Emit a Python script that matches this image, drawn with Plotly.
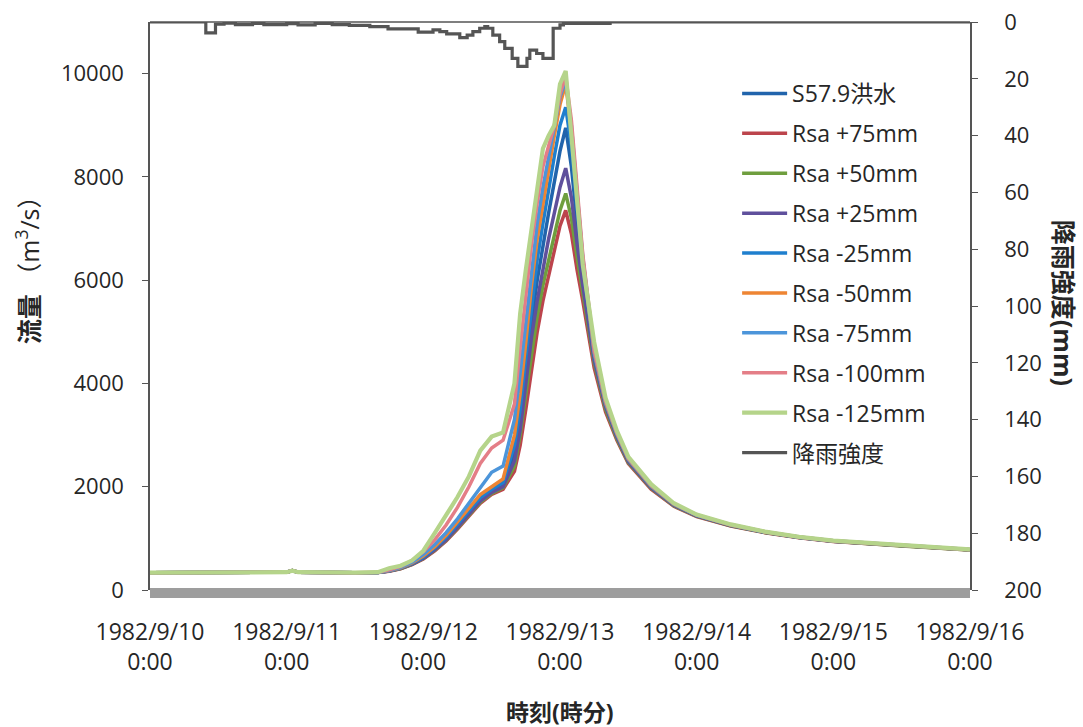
import pandas as pd
import plotly.graph_objects as go

# ---------------- data ----------------
BASE = pd.Timestamp("1982-09-10 00:00")

# flow time points (hours from 1982/9/10 0:00)
flow_hours = [0, 12, 24, 25, 26, 36, 40, 42, 44, 46, 48, 50, 52, 54, 56, 58, 60, 62,
              64, 65, 66, 67, 68, 69, 70, 71, 72, 73, 74, 75, 76, 78, 80, 82, 84,
              88, 92, 96, 102, 108, 114, 120, 132, 144]

q_s579 = [335, 340, 345, 375, 345, 335, 338, 370, 420, 505, 620, 790, 985, 1230, 1490, 1740,
          1910, 2030, 2650, 3300, 4200, 5200, 6000, 6700, 7300, 7900, 8500, 8950,
          8200, 7100, 6100, 4500, 3580, 2980, 2500, 1990, 1650, 1440, 1255, 1120, 1020, 946, 856, 779]
q_p75 = [335, 340, 345, 375, 345, 335, 338, 365, 410, 490, 600, 760, 950, 1180, 1430, 1680,
         1850, 1950, 2300, 2800, 3500, 4300, 5000, 5600, 6100, 6600, 7050, 7350,
         6900, 6200, 5600, 4300, 3450, 2900, 2450, 1950, 1620, 1420, 1240, 1110, 1010, 940, 850, 775]
q_p50 = [335, 340, 345, 375, 345, 335, 338, 367, 415, 495, 610, 770, 965, 1200, 1450, 1700,
         1870, 1980, 2400, 3000, 3800, 4600, 5300, 5900, 6400, 6900, 7350, 7680,
         7200, 6450, 5750, 4400, 3500, 2930, 2470, 1970, 1630, 1430, 1245, 1115, 1015, 942, 852, 777]
q_p25 = [335, 340, 345, 375, 345, 335, 338, 368, 418, 500, 615, 780, 975, 1215, 1470, 1720,
         1890, 2000, 2500, 3100, 4000, 4900, 5600, 6200, 6800, 7300, 7800, 8170,
         7600, 6700, 5900, 4450, 3550, 2960, 2490, 1980, 1640, 1435, 1250, 1118, 1018, 944, 854, 778]
q_m25 = [335, 340, 345, 375, 345, 335, 338, 372, 425, 515, 640, 815, 1020, 1270, 1540, 1790,
         1950, 2080, 2800, 3500, 4500, 5500, 6400, 7100, 7800, 8400, 9000, 9350,
         8600, 7400, 6300, 4550, 3600, 3000, 2520, 2000, 1655, 1445, 1258, 1122, 1022, 948, 858, 780]
q_m50 = [335, 340, 345, 375, 345, 335, 338, 375, 430, 525, 660, 840, 1060, 1320, 1590, 1850,
         2000, 2150, 3000, 3800, 4800, 5900, 6800, 7500, 8200, 8800, 9400, 9800,
         8900, 7600, 6400, 4600, 3620, 3020, 2530, 2010, 1660, 1450, 1260, 1124, 1024, 950, 860, 781]
q_m75 = [335, 340, 345, 375, 345, 335, 340, 380, 440, 540, 690, 880, 1110, 1380, 1680, 2000,
         2280, 2400, 3300, 4200, 5200, 6200, 7100, 7800, 8400, 9000, 9550, 9860,
         9000, 7700, 6450, 4620, 3640, 3030, 2540, 2020, 1665, 1452, 1262, 1126, 1026, 952, 862, 782]
q_m100 = [335, 340, 345, 375, 345, 335, 342, 390, 460, 570, 740, 970, 1260, 1600, 2000, 2450,
          2750, 2900, 3600, 4700, 5700, 6700, 7500, 8200, 8600, 9000, 9600, 9950,
          9100, 7800, 6500, 4650, 3660, 3040, 2550, 2030, 1670, 1455, 1265, 1128, 1028, 954, 864, 784]
q_m125 = [335, 340, 345, 375, 345, 335, 345, 420, 470, 570, 760, 1100, 1450, 1800, 2200, 2700,
          2970, 3050, 4000, 5350, 6200, 7000, 7800, 8550, 8800, 9000, 9800, 10050,
          8800, 7600, 6300, 4800, 3720, 3080, 2580, 2050, 1680, 1460, 1270, 1130, 1030, 956, 866, 786]

# rainfall steps (start hour, mm)
rain_hours = [0, 9.8, 11.5, 13, 15, 18, 20, 24, 26, 29, 32, 35, 38.6, 41.8, 47.1, 49.7, 50.9,
              52.1, 54.4, 55.7, 56.7, 57.9, 58.8, 59.3, 60.2, 61.4, 62.3, 63.6, 64.6, 66.2,
              66.7, 67.9, 69.0, 70.8, 72.0, 72.6, 80.8, 144]
rain_mm = [0, 3.8, 0.8, 0.4, 0.9, 0.5, 0.9, 0.6, 1.0, 0.5, 0.9, 1.2, 1.6, 2.4, 3.6, 2.8, 3.4,
           4.2, 5.5, 4.6, 3.4, 2.2, 1.6, 2.2, 4.6, 6.9, 9.3, 12.8, 15.6, 12.8,
           9.9, 11.1, 12.8, 2.2, 1.0, 0.5, 0, 0]

series_names = ["S57.9洪水", "Rsa +75mm", "Rsa +50mm", "Rsa +25mm", "Rsa -25mm",
                "Rsa -50mm", "Rsa -75mm", "Rsa -100mm", "Rsa -125mm"]
series_values = [q_s579, q_p75, q_p50, q_p25, q_m25, q_m50, q_m75, q_m100, q_m125]
series_colors = ["#2164AC", "#BC444C", "#6F9E3E", "#5F509C", "#1F7FCE",
                 "#EE8533", "#4C95DA", "#E47E87", "#B5D48A"]
rain_name = "降雨強度"

day_ticks = [BASE + pd.Timedelta(days=d) for d in range(7)]
day_labels = [f"1982/9/{10 + d}<br>0:00" for d in range(7)]
left_ticks = [0, 2000, 4000, 6000, 8000, 10000]
right_ticks = list(range(0, 201, 20))

# ---------------- figure ----------------
flow_t = [BASE + pd.Timedelta(hours=h) for h in flow_hours]
rain_t = [BASE + pd.Timedelta(hours=h) for h in rain_hours]

FONT = "Open Sans, Noto Sans CJK JP, sans-serif"
TXT = "#262626"
fig = go.Figure()
for name, vals, col in zip(series_names, series_values, series_colors):
    fig.add_trace(go.Scatter(x=flow_t, y=vals, name=name, mode="lines",
                             legendgroup=name,
                             line=dict(color=col, width=3.5 if name != "Rsa -125mm" else 4.2)))
fig.add_trace(go.Scatter(x=rain_t, y=rain_mm, name=rain_name, mode="lines", yaxis="y2",
                         legendgroup=rain_name,
                         line=dict(color="#555555", width=3.2, shape="hv")))

axis_col = "#555555"
fig.update_layout(
    width=1083, height=727,
    margin=dict(l=150, r=113, t=22, b=137, autoexpand=False),
    paper_bgcolor="white", plot_bgcolor="white",
    font=dict(family=FONT, size=22, color=TXT),
    showlegend=True,
    legend=dict(x=0.716, y=0.912, xanchor="left", yanchor="top",
                bgcolor="rgba(0,0,0,0)", font=dict(size=23, family=FONT, color=TXT),
                tracegroupgap=7, itemwidth=45),
    xaxis=dict(type="date", range=[day_ticks[0], day_ticks[-1]], automargin=False,
               tickvals=day_ticks, ticktext=day_labels, showgrid=False,
               zeroline=False, showline=False, ticks="", ticklabelstandoff=26,
               tickfont=dict(size=23)),
    yaxis=dict(range=[0, 11000], tickvals=left_ticks, tickformat="d", automargin=False,
               showgrid=False, zeroline=False,
               showline=True, linecolor=axis_col, linewidth=1.5,
               ticks="outside", ticklen=6, tickcolor=axis_col, ticklabelstandoff=14,
               tickfont=dict(size=22)),
    yaxis2=dict(range=[200, 0], tickvals=right_ticks, overlaying="y", side="right",
                automargin=False,
                showgrid=False, zeroline=False, showline=True, linecolor=axis_col,
                linewidth=1.5, ticks="outside", ticklen=6, tickcolor=axis_col,
                ticklabelstandoff=22, tickfont=dict(size=22)),
)

# top frame line and grey base band
fig.add_shape(type="line", xref="paper", yref="paper", x0=0, x1=1, y0=1, y1=1,
              line=dict(color=axis_col, width=1.5))
fig.add_shape(type="rect", xref="paper", yref="paper", x0=0, x1=1, y0=-0.0141, y1=0.0035,
              line=dict(width=0), fillcolor="#9d9d9d")

# axis titles
fig.add_annotation(text="<b>流量</b> （m<sup>3</sup>/s）", xref="paper", yref="paper",
                   x=-0.149, y=0.575, xanchor="center", yanchor="middle",
                   textangle=-90, showarrow=False,
                   font=dict(size=25, family=FONT, color=TXT))
fig.add_annotation(text="<b>降雨強度(mm)</b>", xref="paper", yref="paper",
                   x=1.115, y=0.505, xanchor="center", yanchor="middle",
                   textangle=90, showarrow=False,
                   font=dict(size=25, family=FONT, color=TXT))
fig.add_annotation(text="<b>時刻(時分)</b>", xref="paper", yref="paper",
                   x=0.5, y=-0.215, xanchor="center", yanchor="middle", showarrow=False,
                   font=dict(size=23, family=FONT, color=TXT))

fig.write_html("out.html")
